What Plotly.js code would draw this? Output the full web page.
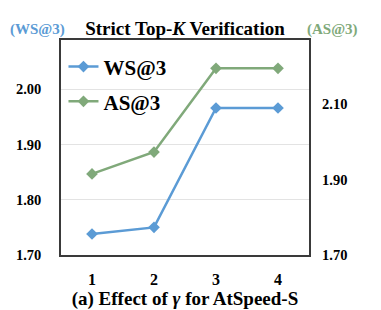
<!DOCTYPE html>
<html>
<head>
<meta charset="utf-8">
<script src="https://cdn.plot.ly/plotly-3.0.1.min.js"></script>
<style>html,body{margin:0;padding:0;background:#fff;}#chart{width:381px;height:310px;}</style>
</head>
<body>
<div id="chart"></div>
<script>
var gammaValues = [1, 2, 3, 4];
var tickLabels = ['1', '2', '3', '4'];
var wsValues = [1.738, 1.750, 1.966, 1.966];
var asValues = [1.915, 1.973, 2.195, 2.195];

var blue = '#5B9BD5';
var green = '#80A97A';
var serif = 'Liberation Serif';

var traces = [
  {x: gammaValues, y: wsValues, name: '<b>WS@3</b>', type: 'scatter', mode: 'lines+markers',
   line: {color: blue, width: 2.5}, marker: {symbol: 'diamond', size: 9, color: blue},
   yaxis: 'y', legend: 'legend'},
  {x: gammaValues, y: asValues, name: '<b>AS@3</b>', type: 'scatter', mode: 'lines+markers',
   line: {color: green, width: 2.5}, marker: {symbol: 'diamond', size: 9, color: green},
   yaxis: 'y2', legend: 'legend2'}
];

var legendBase = {bgcolor: 'rgba(0,0,0,0)', font: {family: serif, size: 21, color: '#000'},
  itemwidth: 30, xanchor: 'left', yanchor: 'middle', borderwidth: 0, tracegroupgap: 0};

var layout = {
  width: 381, height: 310,
  margin: {l: 61, r: 72, t: 40, b: 55},
  paper_bgcolor: '#fff', plot_bgcolor: '#fff',
  font: {family: serif, color: '#000'},
  title: {text: '<b>Strict Top-<i>K</i> Verification</b>', font: {family: serif, size: 19, color: '#000'},
    x: 0.5, xanchor: 'center', y: 0.91, yanchor: 'middle', xref: 'paper'},
  xaxis: {range: [0.5, 4.5], tickvals: gammaValues, ticktext: tickLabels.map(function(t){return '<b>'+t+'</b>';}),
    tickfont: {family: serif, size: 16, color: '#000'}, showgrid: false, zeroline: false,
    showline: true, mirror: true, linecolor: '#3a3a3a', linewidth: 1.5, ticks: '', ticklabelstandoff: 9,
    title: {text: '<b>(a) Effect of <i>γ</i> for AtSpeed-S</b>', font: {family: serif, size: 19, color: '#000'}, standoff: 2}},
  yaxis: {range: [1.70, 2.089], tickvals: [1.70, 1.80, 1.90, 2.00], ticktext: ['<b>1.70</b>','<b>1.80</b>','<b>1.90</b>','<b>2.00</b>'],
    tickfont: {family: serif, size: 14.5, color: '#000'}, showgrid: true, gridcolor: '#E3E3E3', gridwidth: 1,
    zeroline: false, showline: true, mirror: true, linecolor: '#3a3a3a', linewidth: 1.5, ticks: '', ticklabelstandoff: 15},
  yaxis2: {range: [1.70, 2.27], overlaying: 'y', side: 'right', tickvals: [1.70, 1.90, 2.10],
    ticktext: ['<b>1.70</b>','<b>1.90</b>','<b>2.10</b>'], tickfont: {family: serif, size: 14.5, color: '#000'},
    showgrid: false, zeroline: false, showline: false, ticks: '', ticklabelstandoff: 12},
  legend: Object.assign({}, legendBase, {x: 0.01, y: 0.875}),
  legend2: Object.assign({}, legendBase, {x: 0.01, y: 0.713}),
  showlegend: true,
  annotations: [
    {text: '<b>(WS@3)</b>', xref: 'paper', yref: 'paper', x: -0.214, y: 1.05, xanchor: 'left', yanchor: 'middle',
     showarrow: false, font: {family: serif, size: 15, color: blue}},
    {text: '<b>(AS@3)</b>', xref: 'paper', yref: 'paper', x: 0.985, y: 1.05, xanchor: 'left', yanchor: 'middle',
     showarrow: false, font: {family: serif, size: 15, color: green}}
  ]
};

Plotly.newPlot('chart', traces, layout, {displayModeBar: false, responsive: false});
</script>
</body>
</html>
